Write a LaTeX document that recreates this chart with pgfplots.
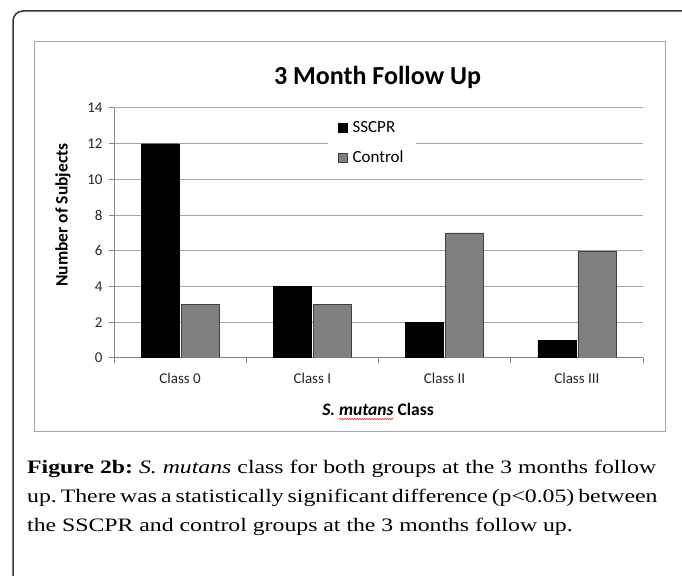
\documentclass[border=0pt]{standalone}
\usepackage{pgfplots}
\pgfplotsset{compat=1.18}
\usepackage{fontspec}
\setmainfont{Liberation Serif}
\newfontfamily\capfont{Liberation Serif}[FakeStretch=1.25]
\newfontfamily\calfont{Carlito}
\usetikzlibrary{decorations.pathmorphing}
\definecolor{axgray}{HTML}{868686}
\definecolor{gridgray}{HTML}{A6A6A6}
\definecolor{ctrlgray}{HTML}{808080}
\begin{document}
\frenchspacing
\begin{tikzpicture}
\useasboundingbox (0,0) rectangle (682bp,576bp);
\fill[white] (0,0) rectangle (682bp,576bp);
\draw[line width=1.5bp, black!80, rounded corners=10bp] (13bp,-3bp) -- (13bp,565bp) -- (686bp,565bp);
\draw[line width=1bp, black!35] (34bp,144bp) rectangle (665bp,534bp);
\begin{axis}[
  at={(114bp,218bp)}, anchor=south west,
  scale only axis, width=529bp, height=250bp,
  ymin=0, ymax=14, ytick={0,2,...,14},
  xmin=-0.5, xmax=3.5,
  xtick={-0.5,0.5,1.5,2.5,3.5},
  x tick label as interval,
  xticklabels={Class 0,Class I,Class II,Class III},
  ybar, bar width=38bp,
  axis x line*=bottom, axis y line*=left,
  axis line style={axgray, line width=1bp},
  tick style={axgray, line width=1bp},
  tick align=outside, major tick length=5bp,
  ymajorgrids, grid style={gridgray, line width=1bp},
  /pgf/number format/assume math mode=true,
  tick label style={font=\calfont\fontsize{15bp}{17bp}\selectfont, text=black!85},
  xticklabel style={yshift=-7bp},
  yticklabel style={xshift=-3bp},
  legend style={at={(rel axis cs:0.4045,0.984)}, anchor=north west, draw=none, fill=white,
    font=\calfont\fontsize{17bp}{19bp}\selectfont, row sep=13bp, inner xsep=10bp, inner ysep=7bp},
  legend cell align=left,
  mylegend/.style={legend image code/.code={\draw[##1] (0bp,-4.5bp) rectangle (9bp,4.5bp); \path (12bp,0bp);}},
]
\addplot[fill=black, draw=black, mylegend] coordinates {(0,12) (1,4) (2,2) (3,1)};
\addplot[fill=ctrlgray, draw=black!75, mylegend] coordinates {(0,3) (1,3) (2,7) (3,6)};
\legend{SSCPR,Control}
\end{axis}
\node[anchor=base] at (377.5bp,491bp) {\calfont\bfseries\fontsize{26bp}{30bp}\selectfont 3 Month Follow Up};
\node[rotate=90] at (63bp,361bp) {\calfont\bfseries\fontsize{17.5bp}{20bp}\selectfont Number of Subjects};
\node[anchor=base] at (378bp,160bp) {\calfont\bfseries\fontsize{17.5bp}{20bp}\selectfont \textit{S. mutans} Class};
\draw[red!80, line width=0.6bp, decorate, decoration={snake, amplitude=0.7bp, segment length=2.5bp}] (339bp,157bp) -- (394bp,157bp);
\node[anchor=base west, inner sep=0] at (27bp,102bp) {\capfont\fontsize{19bp}{29bp}\selectfont\makebox[629bp][s]{\textbf{Figure 2b:} \textit{S. mutans} class for both groups at the 3 months follow}};
\node[anchor=base west, inner sep=0] at (27bp,73bp) {\capfont\fontsize{19bp}{29bp}\selectfont\makebox[629bp][s]{up. There was a statistically significant difference (p<0.05) between}};
\node[anchor=base west, inner sep=0] at (27bp,44bp) {\capfont\fontsize{19bp}{29bp}\selectfont the SSCPR and control groups at the 3 months follow up.};
\end{tikzpicture}
\end{document}
